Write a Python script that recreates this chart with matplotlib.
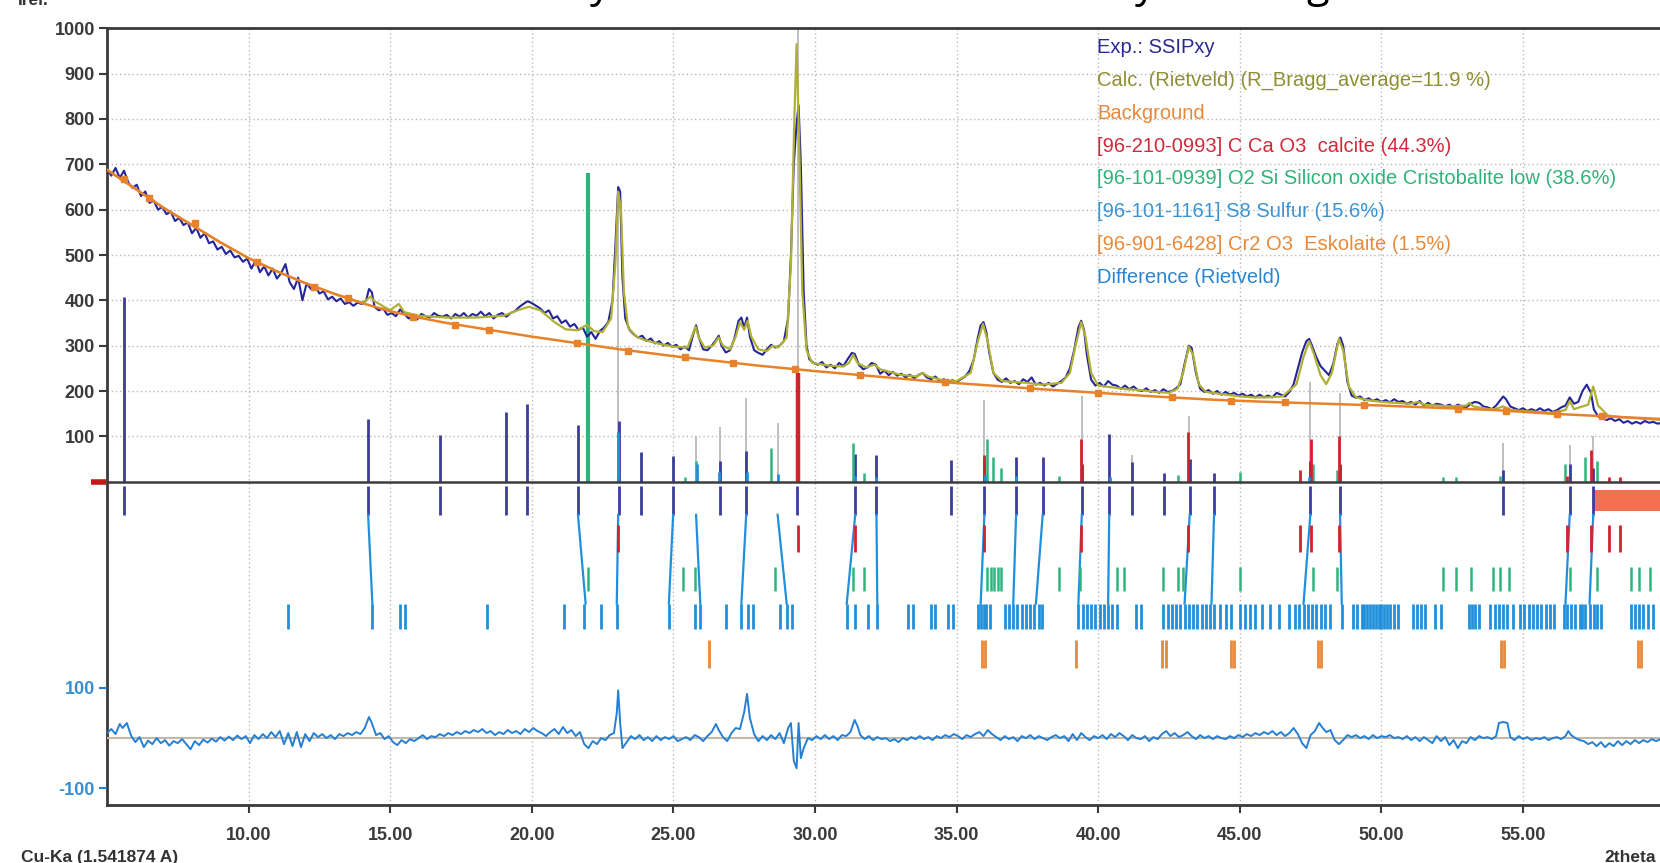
import numpy as np
import matplotlib
matplotlib.use("Agg")
import matplotlib.pyplot as plt
from matplotlib.patches import Rectangle

plt.rcParams['font.family'] = ['Liberation Sans', 'DejaVu Sans']

obs_tt = [5.00, 5.15, 5.30, 5.45, 5.60, 5.75, 5.90, 6.05, 6.20, 6.35, 6.50, 6.65, 6.80, 6.95, 7.10, 7.25,
          7.40, 7.55, 7.70, 7.85, 8.00, 8.15, 8.30, 8.45, 8.60, 8.75, 8.90, 9.05, 9.20, 9.35, 9.50, 9.65,
          9.80, 9.95, 10.10, 10.25, 10.40, 10.55, 10.70, 10.85, 11.00, 11.15, 11.30, 11.45, 11.60, 11.75,
          11.90, 12.05, 12.20, 12.35, 12.50, 12.65, 12.80, 12.95, 13.10, 13.25, 13.40, 13.55, 13.70, 13.85,
          14.00, 14.15, 14.25, 14.35, 14.45, 14.60, 14.75, 14.90, 15.05, 15.20, 15.35, 15.50, 15.65, 15.80,
          15.95, 16.10, 16.25, 16.40, 16.55, 16.70, 16.85, 17.00, 17.15, 17.30, 17.45, 17.60, 17.75, 17.90,
          18.05, 18.20, 18.35, 18.50, 18.65, 18.80, 18.95, 19.10, 19.25, 19.40, 19.55, 19.70, 19.85, 20.00,
          20.15, 20.30, 20.45, 20.60, 20.75, 20.90, 21.05, 21.20, 21.35, 21.50, 21.65, 21.80, 21.95, 22.10,
          22.25, 22.40, 22.55, 22.70, 22.85, 22.95, 23.05, 23.12, 23.20, 23.30, 23.45, 23.60, 23.75, 23.90,
          24.05, 24.20, 24.35, 24.50, 24.65, 24.80, 24.95, 25.10, 25.25, 25.40, 25.55, 25.70, 25.80, 25.90,
          26.05, 26.20, 26.35, 26.50, 26.60, 26.70, 26.85, 27.00, 27.15, 27.30, 27.40, 27.50, 27.60, 27.70,
          27.85, 28.00, 28.15, 28.30, 28.45, 28.60, 28.75, 28.90, 29.05, 29.15, 29.25, 29.35, 29.42, 29.50,
          29.60, 29.70, 29.80, 29.95, 30.10, 30.25, 30.40, 30.55, 30.70, 30.85, 31.00, 31.15, 31.30, 31.40,
          31.55, 31.70, 31.85, 32.00, 32.15, 32.30, 32.45, 32.60, 32.75, 32.90, 33.05, 33.20, 33.35, 33.50,
          33.65, 33.80, 33.95, 34.10, 34.25, 34.40, 34.55, 34.70, 34.85, 35.00, 35.15, 35.30, 35.45, 35.60,
          35.75, 35.85, 35.95, 36.05, 36.15, 36.30, 36.45, 36.60, 36.75, 36.90, 37.05, 37.20, 37.35, 37.50,
          37.65, 37.80, 37.95, 38.10, 38.25, 38.40, 38.55, 38.70, 38.85, 39.00, 39.15, 39.30, 39.40, 39.50,
          39.60, 39.75, 39.90, 40.05, 40.20, 40.35, 40.50, 40.65, 40.80, 40.95, 41.10, 41.25, 41.40, 41.55,
          41.70, 41.85, 42.00, 42.15, 42.30, 42.45, 42.60, 42.75, 42.90, 43.05, 43.20, 43.30, 43.45, 43.60,
          43.75, 43.90, 44.05, 44.20, 44.35, 44.50, 44.65, 44.80, 44.95, 45.10, 45.25, 45.40, 45.55, 45.70,
          45.85, 46.00, 46.15, 46.30, 46.45, 46.60, 46.75, 46.90, 47.05, 47.20, 47.35, 47.45, 47.55, 47.70,
          47.85, 48.00, 48.15, 48.30, 48.45, 48.55, 48.65, 48.80, 48.95, 49.10, 49.25, 49.40, 49.55, 49.70,
          49.85, 50.00, 50.15, 50.30, 50.45, 50.60, 50.75, 50.90, 51.05, 51.20, 51.35, 51.50, 51.65, 51.80,
          51.95, 52.10, 52.25, 52.40, 52.55, 52.70, 52.85, 53.00, 53.15, 53.30, 53.45, 53.60, 53.75, 53.90,
          54.05, 54.20, 54.30, 54.40, 54.55, 54.70, 54.85, 55.00, 55.15, 55.30, 55.45, 55.60, 55.75, 55.90,
          56.05, 56.20, 56.35, 56.50, 56.65, 56.80, 56.95, 57.10, 57.25, 57.40, 57.50, 57.65, 57.80, 57.95,
          58.10, 58.25, 58.40, 58.55, 58.70, 58.85, 59.00, 59.15, 59.30, 59.45, 59.60, 59.75, 59.90]
obs_i = [690, 675, 692, 670, 686, 660, 648, 655, 630, 640, 615, 620, 600, 606, 590, 596,
         575, 582, 566, 572, 548, 560, 538, 548, 526, 530, 512, 518, 502, 510, 495, 498,
         485, 492, 470, 488, 462, 475, 455, 470, 448, 460, 480, 440, 425, 450,
         400, 438, 425, 432, 415, 420, 402, 408, 398, 404, 392, 396, 388, 395,
         392, 400, 425, 418, 385, 378, 382, 368, 372, 365, 380, 370, 360, 366,
         358, 370, 365, 362, 372, 366, 364, 368, 360, 370, 364, 372, 362, 370,
         366, 375, 365, 372, 360, 368, 372, 364, 372, 376, 385, 392, 398, 394,
         388, 382, 372, 378, 360, 365, 350, 356, 342, 348, 335, 340, 320, 330,
         315, 332, 340, 352, 400, 520, 650, 640, 450, 360, 335, 325, 318, 322,
         310, 316, 305, 310, 300, 306, 298, 302, 292, 298, 290, 325, 345, 318,
         292, 290, 300, 312, 322, 300, 285, 290, 315, 355, 362, 340, 362, 320,
         290, 284, 280, 292, 302, 296, 300, 310, 360, 500, 700, 790, 830, 700,
         420, 300, 270, 262, 258, 264, 252, 258, 250, 262, 255, 270, 284, 282,
         258, 248, 252, 262, 258, 238, 245, 235, 242, 234, 238, 230, 236, 228,
         235, 240, 230, 226, 232, 222, 226, 218, 224, 220, 226, 232, 244, 268,
         318, 345, 352, 330, 285, 240, 225, 220, 228, 218, 222, 215, 226, 220,
         230, 214, 218, 212, 218, 210, 216, 222, 230, 250, 290, 340, 355, 335,
         280, 225, 212, 218, 210, 222, 214, 212, 205, 212, 204, 210, 202, 200,
         206, 198, 202, 196, 204, 198, 200, 206, 215, 260, 300, 295, 240, 205,
         198, 202, 194, 200, 192, 198, 192, 196, 190, 194, 188, 192, 186, 192,
         186, 190, 186, 196, 192, 188, 198, 215, 250, 285, 310, 315, 300, 275,
         255, 245, 235, 260, 305, 318, 300, 220, 190, 185, 188, 180, 184, 178,
         182, 176, 180, 175, 182, 176, 178, 172, 176, 170, 178, 168, 174, 168,
         172, 170, 166, 170, 164, 170, 166, 164, 172, 176, 174, 166, 164, 160,
         168, 180, 188, 182, 166, 162, 158, 162, 156, 160, 156, 162, 156, 160,
         154, 158, 164, 168, 186, 172, 176, 200, 214, 196, 160, 144, 140, 136,
         140, 134, 138, 130, 134, 128, 132, 128, 134, 130, 132, 128, 130]

# ---- calculated (Rietveld) profile ----
calc_tt = [5.0, 6.0, 7.0, 8.0, 9.0, 10.0, 11.0, 12.0, 13.0, 14.0, 14.15, 14.3, 14.45, 15.0, 15.3, 15.5,
           16.0, 17.0, 18.0, 18.5, 19.0, 19.5, 19.9, 20.3, 20.8, 21.2, 21.6, 21.95, 22.2, 22.5, 22.8,
           22.95, 23.05, 23.15, 23.25, 23.4, 23.7, 24.0, 24.5, 25.0, 25.5, 25.65, 25.78, 25.9, 26.1,
           26.4, 26.6, 26.75, 27.0, 27.2, 27.35, 27.5, 27.62, 27.75, 28.0, 28.3, 28.5, 28.7, 29.0,
           29.15, 29.27, 29.35, 29.45, 29.55, 29.7, 29.9, 30.5, 31.0, 31.2, 31.35, 31.5, 31.8, 32.1,
           32.3, 33.0, 33.6, 33.8, 34.0, 34.5, 35.0, 35.5, 35.75, 35.93, 36.1, 36.3, 36.6, 37.0, 37.5,
           38.0, 38.7, 39.0, 39.2, 39.4, 39.55, 39.75, 40.0, 40.5, 41.0, 41.5, 42.0, 42.5, 42.8, 43.0,
           43.2, 43.35, 43.55, 43.8, 44.5, 45.0, 45.5, 46.0, 46.5, 47.0, 47.25, 47.45, 47.6, 47.85,
           48.05, 48.25, 48.5, 48.65, 48.85, 49.1, 49.5, 50.0, 50.5, 51.0, 51.3, 51.5, 52.0, 52.5,
           53.0, 53.1, 53.25, 53.8, 54.0, 54.3, 54.6, 55.0, 55.5, 56.0, 56.5, 56.65, 56.8, 57.3,
           57.48, 57.65, 58.0, 58.5, 59.0, 59.5, 59.9]
calc_i = [688, 646, 604, 566, 528, 493, 464, 438, 415, 395, 400, 408, 398, 378, 392, 374,
          366, 362, 362, 364, 366, 378, 386, 378, 352, 336, 334, 346, 332, 330, 360,
          480, 640, 600, 420, 340, 320, 312, 304, 298, 296, 320, 342, 318, 296,
          300, 318, 300, 292, 320, 352, 335, 355, 320, 292, 288, 300, 296, 318,
          480, 800, 965, 720, 420, 290, 262, 256, 254, 262, 280, 262, 252, 258,
          248, 236, 232, 240, 232, 224, 222, 240, 310, 348, 310, 240, 222, 220, 218,
          214, 218, 240, 300, 352, 320, 240, 212, 208, 204, 202, 198, 196, 205, 240,
          298, 280, 215, 198, 192, 188, 186, 186, 188, 215, 275, 310, 285, 235,
          215, 240, 315, 290, 210, 186, 180, 176, 174, 172, 176, 170, 168, 166,
          168, 174, 166, 160, 160, 166, 158, 156, 154, 152, 158, 178, 160, 170,
          210, 168, 146, 142, 140, 138, 136]

# ---- background ----
bg_tt = [5.0, 6.0, 7.0, 8.0, 9.0, 10.0, 11.0, 12.0, 13.0, 14.0, 15.0, 16.0, 17.0, 18.0, 19.0, 20.0,
         21.0, 22.0, 23.0, 24.0, 25.0, 26.0, 27.0, 28.0, 29.0, 30.0, 32.0, 34.0, 36.0, 38.0, 40.0,
         42.0, 44.0, 46.0, 48.0, 50.0, 52.0, 54.0, 56.0, 58.0, 60.0]
bg_i = [688, 646, 604, 566, 528, 493, 464, 438, 415, 394, 376, 362, 350, 340, 330, 320,
        311, 302, 293, 285, 277, 270, 263, 256, 250, 244, 233, 222, 213, 204, 196,
        188, 181, 176, 172, 168, 163, 158, 150, 144, 138]
bg_mark_tt = [5.6, 6.5, 8.1, 10.3, 12.3, 13.5, 15.8, 17.3, 18.5, 21.6, 23.4, 25.4, 27.1, 29.3,
              31.6, 34.6, 37.6, 40.0, 42.6, 44.7, 46.6, 49.4, 52.7, 54.4, 56.2, 57.8]
bg_mark_i = [668, 625, 571, 484, 430, 405, 364, 346, 335, 307, 289, 274, 262, 248,
             235, 220, 207, 196, 186, 179, 175, 169, 161, 155, 149, 145]

# ---- difference curve ----
diff_tt = [5.0, 5.15, 5.3, 5.45, 5.55, 5.7, 5.85, 6.0, 6.15, 6.3, 6.45, 6.6, 6.75, 6.9, 7.05, 7.2,
           7.35, 7.5, 7.65, 7.8, 7.95, 8.1, 8.25, 8.4, 8.55, 8.7, 8.85, 9.0, 9.15, 9.3, 9.45, 9.6,
           9.75, 9.9, 10.05, 10.2, 10.35, 10.5, 10.65, 10.8, 10.95, 11.1, 11.25, 11.4, 11.55, 11.7,
           11.85, 12.0, 12.15, 12.3, 12.45, 12.6, 12.75, 12.9, 13.05, 13.2, 13.35, 13.5, 13.65, 13.8,
           13.95, 14.1, 14.25, 14.35, 14.5, 14.65, 14.8, 14.95, 15.1, 15.25, 15.4, 15.55, 15.7, 15.85,
           16.0, 16.15, 16.3, 16.45, 16.6, 16.75, 16.9, 17.05, 17.2, 17.35, 17.5, 17.65, 17.8, 17.95,
           18.1, 18.25, 18.4, 18.55, 18.7, 18.85, 19.0, 19.15, 19.3, 19.45, 19.6, 19.75, 19.9, 20.05,
           20.2, 20.35, 20.5, 20.65, 20.8, 20.95, 21.1, 21.25, 21.4, 21.55, 21.7, 21.85, 22.0, 22.15,
           22.3, 22.45, 22.6, 22.75, 22.9, 23.0, 23.05, 23.12, 23.2, 23.35, 23.5, 23.65, 23.8, 23.95,
           24.1, 24.25, 24.4, 24.55, 24.7, 24.85, 25.0, 25.15, 25.3, 25.45, 25.6, 25.75, 25.9, 26.05,
           26.2, 26.35, 26.5, 26.6, 26.75, 26.9, 27.05, 27.2, 27.35, 27.5, 27.6, 27.7, 27.85, 28.0,
           28.15, 28.3, 28.45, 28.6, 28.75, 28.9, 29.05, 29.15, 29.25, 29.35, 29.42, 29.5, 29.6, 29.75,
           29.9, 30.05, 30.2, 30.35, 30.5, 30.65, 30.8, 30.95, 31.1, 31.25, 31.4, 31.5, 31.6, 31.75,
           31.9, 32.05, 32.2, 32.35, 32.5, 32.65, 32.8, 32.95, 33.1, 33.25, 33.4, 33.55, 33.7, 33.85,
           34.0, 34.15, 34.3, 34.45, 34.6, 34.75, 34.9, 35.05, 35.2, 35.35, 35.5, 35.65, 35.8, 35.95,
           36.1, 36.25, 36.4, 36.55, 36.7, 36.85, 37.0, 37.15, 37.3, 37.45, 37.6, 37.75, 37.9, 38.05,
           38.2, 38.35, 38.5, 38.65, 38.8, 38.95, 39.1, 39.25, 39.4, 39.55, 39.7, 39.85, 40.0, 40.15,
           40.3, 40.45, 40.6, 40.75, 40.9, 41.05, 41.2, 41.35, 41.5, 41.65, 41.8, 41.95, 42.1, 42.25,
           42.4, 42.55, 42.7, 42.85, 43.0, 43.15, 43.3, 43.45, 43.6, 43.75, 43.9, 44.05, 44.2, 44.35,
           44.5, 44.65, 44.8, 44.95, 45.1, 45.25, 45.4, 45.55, 45.7, 45.85, 46.0, 46.15, 46.3, 46.45,
           46.6, 46.75, 46.9, 47.05, 47.2, 47.35, 47.5, 47.65, 47.8, 47.9, 48.05, 48.2, 48.35, 48.5,
           48.65, 48.8, 48.95, 49.1, 49.25, 49.4, 49.55, 49.7, 49.85, 50.0, 50.15, 50.3, 50.45, 50.6,
           50.75, 50.9, 51.05, 51.2, 51.35, 51.5, 51.65, 51.8, 51.95, 52.1, 52.25, 52.4, 52.55, 52.7,
           52.85, 53.0, 53.15, 53.3, 53.45, 53.6, 53.75, 53.9, 54.05, 54.15, 54.3, 54.45, 54.55, 54.7,
           54.85, 55.0, 55.15, 55.3, 55.45, 55.6, 55.75, 55.9, 56.05, 56.2, 56.35, 56.5, 56.6, 56.7,
           56.85, 57.0, 57.15, 57.3, 57.45, 57.6, 57.75, 57.9, 58.05, 58.2, 58.35, 58.5, 58.65, 58.8,
           58.95, 59.1, 59.25, 59.4, 59.55, 59.7, 59.85]
diff_i = [10, 18, 8, 28, 20, 30, 5, -8, 2, -18, -5, -12, 0, -10, -4, -15,
          -6, -10, -2, -12, -22, -6, -14, -3, -9, -1, -7, 2, -5, 3, -4, 5,
          -2, 4, -10, 6, -2, 8, 0, 12, 2, 14, -12, 10, -16, 12,
          -18, 8, -6, 10, 2, 8, 0, 6, -2, 8, 4, 10, 6, 12,
          8, 20, 42, 30, 6, 10, -2, 4, -8, -14, -4, -10, -2, -6,
          0, 6, -2, 4, 2, 8, 4, 10, 6, 12, 8, 14, 10, 16,
          12, 18, 10, 14, 6, 12, 8, 16, 10, 14, 8, 18, 12, 20,
          14, 10, 4, 12, 18, 8, 22, 10, 16, 4, 12, -12, -20, -6,
          -12, 0, -4, 6, 10, 50, 95, 30, -20, -8, 4, -2, 6, -4,
          2, -6, 4, -4, 2, -2, 4, -6, -2, 2, -4, 6, 2, -6,
          4, 12, 28, 16, 2, -6, 10, 20, 18, 52, 88, 40, 8, -6,
          4, -4, 6, -2, 10, -10, 20, 30, -45, -60, 30, -40, -20, 0,
          -4, 4, -2, 6, -2, 4, -4, 6, 4, 12, 36, 24, 6, -2,
          4, -4, 2, -2, 0, -6, -2, -8, 0, -4, 2, -2, 4, -2,
          2, -4, 4, 0, 6, 2, 8, 4, -2, 6, 2, 8, 12, 4,
          16, 8, 2, -4, 4, -2, 2, -6, 4, 0, 6, -2, 4, 0,
          -4, 2, 6, 0, 4, -6, 8, -4, 10, 2, -4, 4, 0, 6,
          -2, 8, 2, 10, 4, -4, 6, 0, -2, 4, -6, 2, -2, 8,
          14, 4, 10, 2, 6, 12, 4, -2, 6, 0, 4, -2, 4, 0,
          -2, 4, 0, 6, 2, 8, 4, 10, 6, 12, 8, 14, 6, 12,
          4, 10, 20, 8, -10, -20, 6, 14, 30, 22, 12, 16, -4, -12,
          -4, 6, 2, 6, 0, 4, -2, 6, 0, 4, 2, 6, 0, 2,
          -2, 4, -4, 2, -6, 2, -4, -10, 4, -6, 2, -14, -4, -20,
          -6, -10, 2, -4, 4, 0, 2, -2, 4, 30, 32, 30, 2, -4,
          4, -2, 2, -4, 0, -2, 2, -4, 0, 2, -2, 4, 14, 6,
          0, -4, -6, -12, -8, -16, -8, -18, -10, -16, -6, -14, -6, -12,
          -4, -10, -4, -8, -2, -6, -2]

# ---- stick patterns above the zero line ----
exp_pk_tt = [5.59, 14.22, 16.77, 19.08, 19.83, 21.63, 23.08, 23.87, 24.99, 26.64, 27.57, 29.36,
             31.42, 32.17, 34.79, 35.98, 37.10, 38.04, 39.42, 40.39, 41.21, 42.34, 43.23, 44.09,
             47.49, 48.54, 54.30, 56.65, 57.48]
exp_pk_i = [408, 138, 103, 153, 172, 125, 135, 65, 57, 46, 68, 30,
            62, 58, 47, 45, 54, 54, 40, 105, 44, 20, 50, 20,
            45, 40, 25, 40, 30]
gray_tt = [23.05, 25.80, 26.64, 27.57, 28.68, 29.41, 35.98, 39.42, 41.21, 43.20, 47.49, 48.54,
           54.30, 56.65, 57.48]
gray_i = [640, 100, 120, 185, 130, 1000, 180, 190, 60, 145, 220, 195, 85, 80, 100]
calcite_tt = [23.05, 29.41, 31.42, 35.97, 39.41, 43.16, 47.12, 47.50, 48.51, 56.57, 57.41, 58.04, 58.41]
calcite_i = [12, 240, 8, 60, 95, 110, 25, 95, 100, 12, 70, 10, 10]
crist_tt = [22.00, 25.40, 25.80, 28.44, 31.34, 31.72, 36.08, 36.30, 36.58, 38.60, 42.80, 44.99,
            47.57, 48.43, 52.17, 52.65, 54.20, 56.50, 57.20, 57.60]
crist_i = [680, 10, 45, 75, 85, 20, 95, 55, 30, 12, 15, 22, 40, 25, 10, 10, 12, 40, 55, 45]
sulfur_pk_tt = [23.05, 25.85, 26.60, 27.60, 28.70, 31.42, 32.15, 36.00, 37.10, 40.40, 47.45]
sulfur_pk_i = [110, 40, 22, 22, 18, 12, 10, 14, 12, 10, 10]

# ---- phase position markers below the zero line ----
calcite_mk = [23.05, 29.41, 31.42, 35.97, 39.41, 43.16, 47.12, 47.50, 48.51, 56.57, 57.41, 58.04, 58.41]
crist_mk = [21.98, 25.35, 25.75, 28.58, 31.34, 31.72, 36.06, 36.20, 36.33, 36.45, 36.58, 38.60,
            39.35, 40.65, 40.90, 42.30, 42.80, 43.00, 44.99, 47.57, 48.43, 52.17, 52.65, 53.18,
            53.93, 54.20, 54.50, 56.65, 57.60, 58.80, 59.10, 59.50]
sulfur_mk = [11.38, 14.37, 15.35, 15.53, 18.41, 21.14, 21.85, 22.45, 23.00, 24.84, 25.77, 25.95,
             26.86, 27.38, 27.62, 27.80, 28.77, 29.00, 29.20, 31.12, 31.42, 31.87, 32.20, 33.29,
             33.45, 34.11, 34.25, 34.70, 34.86, 35.76, 35.85, 35.95, 36.05, 36.17, 36.70, 36.85,
             37.00, 37.15, 37.30, 37.45, 37.60, 37.75, 37.90, 38.00, 39.30, 39.45, 39.60, 39.75,
             39.90, 40.05, 40.20, 40.35, 40.50, 40.65, 41.35, 41.50, 42.30, 42.45, 42.60, 42.75,
             42.90, 43.05, 43.20, 43.35, 43.50, 43.65, 43.80, 43.95, 44.10, 44.30, 44.50, 44.70,
             45.00, 45.20, 45.35, 45.55, 45.80, 46.05, 46.40, 46.75, 46.95, 47.10, 47.25, 47.40,
             47.55, 47.70, 47.85, 48.00, 48.20, 48.60, 49.00, 49.15, 49.30, 49.40, 49.50, 49.60,
             49.70, 49.80, 49.90, 50.00, 50.10, 50.20, 50.30, 50.45, 50.60, 51.10, 51.25, 51.40,
             51.55, 51.90, 52.10, 53.10, 53.20, 53.30, 53.45, 53.85, 54.00, 54.15, 54.30, 54.45,
             54.65, 54.90, 55.05, 55.20, 55.35, 55.50, 55.65, 55.80, 55.95, 56.10, 56.45, 56.55,
             56.70, 56.85, 57.00, 57.10, 57.20, 57.35, 57.50, 57.60, 57.75, 58.80, 58.95, 59.10,
             59.25, 59.40, 59.60]
eskol_mk = [26.26, 35.90, 36.00, 39.20, 42.26, 42.40, 44.69, 44.80, 47.76, 47.88, 54.22, 54.32,
            59.05, 59.15]
link_top_tt = [14.22, 21.63, 23.05, 24.99, 25.80, 27.57, 28.68, 31.42, 32.17, 35.98, 37.10, 38.04,
               39.42, 40.39, 43.23, 44.09, 47.49, 48.54, 56.65, 57.48]
link_bot_tt = [14.37, 21.90, 23.00, 24.84, 25.95, 27.40, 29.00, 31.12, 32.20, 35.85, 37.00, 37.80,
               39.30, 40.35, 43.05, 44.00, 47.25, 48.60, 56.50, 57.35]

# axis tick labels
main_ticks = [100, 200, 300, 400, 500, 600, 700, 800, 900, 1000]
diff_ticks = [-100, 100]
x_ticks = [10, 15, 20, 25, 30, 35, 40, 45, 50, 55]

# colours
c_obs = '#25259a'
c_calc = '#b0b035'
c_bg = '#e8822a'
c_cal = '#d2222c'
c_cri = '#2fb47c'
c_sul = '#2190dc'
c_esk = '#e8893a'
c_dif = '#2580d2'
c_nav = '#3b3b9c'

W, H = 1660, 863
fig = plt.figure(figsize=(W / 100, H / 100), dpi=100)
x0, x1 = 107.3, 1700.0
y_top, y_bot = 28.3, 805.0
ax = fig.add_axes([x0 / W, (H - y_bot) / H, (x1 - x0) / W, (y_bot - y_top) / H])
ax.set_xlim(5.01, 61.25)
ax.set_ylim(-713, 999)

# grid
ax.set_xticks(x_ticks)
ax.set_xticklabels(['%.2f' % t for t in x_ticks])
for t in x_ticks:
    ax.axvline(t, color='#b8b8b8', lw=1.0, ls=(0, (1, 2)), zorder=0)
ax.hlines(main_ticks[:-1], 5.01, 61.25, colors='#b8b8b8', lw=1.0, linestyles=(0, (1, 2)), zorder=0)

# sticks
ax.vlines(gray_tt, 0, gray_i, colors='#b4b4b4', lw=1.2, zorder=2)
ax.vlines(exp_pk_tt, 0, exp_pk_i, colors=c_nav, lw=2.0, zorder=3)
ax.vlines(crist_tt, 0, crist_i, colors=c_cri, lw=[3 if i > 500 else 1.8 for i in crist_i], zorder=3)
ax.vlines(calcite_tt, 0, calcite_i, colors=c_cal, lw=[3.2 if i > 200 else 2.0 for i in calcite_i], zorder=3)
ax.vlines(sulfur_pk_tt, 0, sulfur_pk_i, colors=c_sul, lw=2.0, zorder=3)

# zero line
ax.axhline(0, color='#3c3c3c', lw=1.8, zorder=4)
ax.plot([4.45, 4.98], [0, 0], color='#c41a1a', lw=4, clip_on=False, solid_capstyle='butt')

# profiles
ax.plot(obs_tt, obs_i, color=c_obs, lw=1.5, zorder=5)
ax.plot(calc_tt, calc_i, color=c_calc, lw=1.6, zorder=6)
ax.plot(bg_tt, bg_i, color=c_bg, lw=1.8, zorder=7)
ax.plot(bg_mark_tt, bg_mark_i, ls='none', marker='s', ms=5, color=c_bg, zorder=7)

# position markers (rows below zero)
ax.vlines(exp_pk_tt, -73, -9, colors=c_nav, lw=2.0)
for a, b in zip(link_top_tt, link_bot_tt):
    ax.plot([a, b], [-73, -269], color=c_sul, lw=1.6)
ax.vlines(calcite_mk, -154, -95, colors=c_cal, lw=2.0)
ax.vlines(crist_mk, -240, -187, colors=c_cri, lw=1.8)
ax.vlines(sulfur_mk, -324, -269, colors=c_sul, lw=2.0)
ax.vlines(eskol_mk, -410, -350, colors=c_esk, lw=2.0)
ax.add_patch(Rectangle((57.52, -64), 5, 46, color='#f2704e', lw=0))

# axes look
for s in ['top', 'bottom', 'left']:
    ax.spines[s].set_linewidth(2.0)
    ax.spines[s].set_color('#3a3a3a')
ax.spines['right'].set_visible(False)
ax.set_yticks(main_ticks)
ax.tick_params(axis='both', direction='out', length=6, width=1.5, color='#3a3a3a',
               labelsize=13, labelcolor='#3a3a3a')
for lab in ax.get_xticklabels() + ax.get_yticklabels():
    lab.set_fontweight('bold')
ax.tick_params(axis='y', pad=3)
ax.tick_params(axis='x', pad=10)

# difference panel on its own scale
ax2 = ax.twinx()
ax2.set_ylim(-133, 1411)
ax2.axhline(0, color='#c4b8a8', lw=1.5, zorder=1)
ax2.plot(diff_tt, diff_i, color=c_dif, lw=1.4, zorder=2)
ax2.yaxis.tick_left()
ax2.set_yticks(diff_ticks)
ax2.set_yticklabels(['-100', '100'], fontweight='bold')
ax2.tick_params(axis='y', direction='out', length=6, width=1.5, color=c_dif,
                labelsize=13, labelcolor='#3a8fd0', pad=3)
for s in ax2.spines.values():
    s.set_visible(False)

# legend texts
legend = [('Exp.: SSIPxy', '#2a2a92'),
          ('Calc. (Rietveld) (R_Bragg_average=11.9 %)', '#8e8e32'),
          ('Background', '#e8883a'),
          ('[96-210-0993] C Ca O3  calcite (44.3%)', '#d02a3a'),
          ('[96-101-0939] O2 Si Silicon oxide Cristobalite low (38.6%)', '#2fb27c'),
          ('[96-101-1161] S8 Sulfur (15.6%)', '#3a94d4'),
          ('[96-901-6428] Cr2 O3  Eskolaite (1.5%)', '#e8893a'),
          ('Difference (Rietveld)', '#2a84d0')]
for k, (txt, col) in enumerate(legend):
    fig.text(1097 / W, 1 - (47.6 + 32.8 * k) / H, txt, color=col, fontsize=14.5, va='center')

# labels and cut-off title fragments
fig.text(18 / W, 1 - 5 / H, 'Irel.', fontsize=12.5, color='#333333', va='baseline', fontweight='bold')
fig.text(21 / W, 1 - 850 / H, 'Cu-Ka (1.541874 A)', fontsize=12.5, color='#333333', va='top',
         fontweight='bold')
fig.text(1604 / W, 1 - 850 / H, '2theta', fontsize=12.5, color='#333333', va='top', fontweight='bold')
for ch, px in [('y', 600), ('y', 1145), ('g', 1318)]:
    fig.text(px / W, 1 + 3 / H, ch, fontsize=30, color='black', ha='center', va='baseline',
             family='Open Sans')

fig.savefig('out.png', dpi=100)
